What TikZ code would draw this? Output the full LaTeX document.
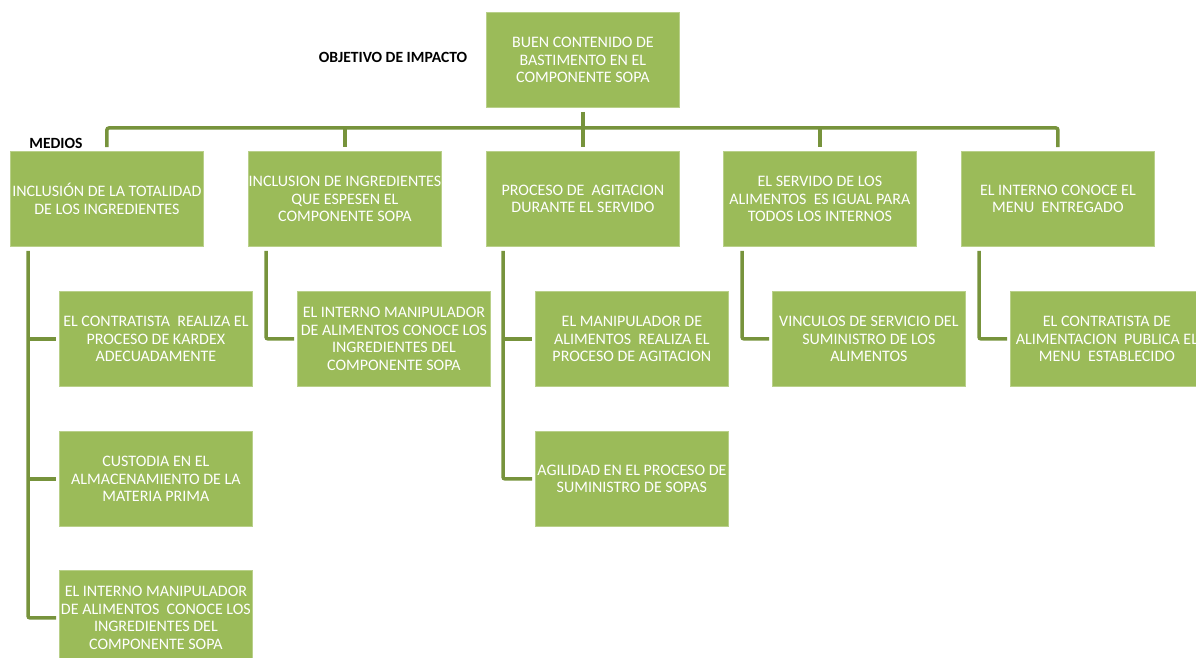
\documentclass[tikz,border=0pt]{standalone}
\usepackage{fontspec}
\setmainfont{Carlito}
\definecolor{boxgreen}{HTML}{9BBB59}
\definecolor{boxedge}{HTML}{B9D08A}
\definecolor{linegreen}{HTML}{77933C}
\tikzset{
  box/.style={fill=boxgreen, draw=boxedge, line width=0.8pt, minimum width=193pt, minimum height=95pt,
    inner sep=0pt, text=white, align=center, anchor=north west,
    font=\fontsize{16}{17.5}\selectfont},
  conn/.style={draw=linegreen, line width=3.5pt, rounded corners=2pt, line cap=butt},
  lbl/.style={font=\fontsize{15.6}{17}\selectfont\bfseries, text=black, inner sep=0pt}
}
\begin{document}
\begin{tikzpicture}[x=1pt,y=-1pt]
\useasboundingbox (0,0) rectangle (1196,658);
% top
\node[box] (top) at (486,12) {BUEN CONTENIDO DE\\BASTIMENTO EN EL\\COMPONENTE SOPA};
\node[lbl] (obj) at (393,57) {OBJETIVO DE IMPACTO};
\node[lbl] (med) at (56,143) {MEDIOS};
% level 1
\node[box] (m1) at (10,151) {INCLUSIÓN DE LA TOTALIDAD\\DE LOS INGREDIENTES};
\node[box] (m2) at (248,151) {INCLUSION DE INGREDIENTES\\QUE ESPESEN EL\\COMPONENTE SOPA};
\node[box] (m3) at (486,151) {PROCESO DE~ AGITACION\\DURANTE EL SERVIDO};
\node[box] (m4) at (723,151) {EL SERVIDO DE LOS\\ALIMENTOS~ ES IGUAL PARA\\TODOS LOS INTERNOS};
\node[box] (m5) at (961,151) {EL INTERNO CONOCE EL\\MENU~ ENTREGADO};
% level 2
\node[box] (a1) at (59,291) {EL CONTRATISTA~ REALIZA EL\\PROCESO DE KARDEX\\ADECUADAMENTE};
\node[box] (a2) at (59,431) {CUSTODIA EN EL\\ALMACENAMIENTO DE LA\\MATERIA PRIMA};
\node[box] (a3) at (59,570) {EL INTERNO MANIPULADOR\\DE ALIMENTOS~ CONOCE LOS\\INGREDIENTES DEL\\COMPONENTE SOPA};
\node[box] (b1) at (297,291) {EL INTERNO MANIPULADOR\\DE ALIMENTOS CONOCE LOS\\INGREDIENTES DEL\\COMPONENTE SOPA};
\node[box] (c1) at (535,291) {EL MANIPULADOR DE\\ALIMENTOS~ REALIZA EL\\PROCESO DE AGITACION};
\node[box] (c2) at (535,431) {AGILIDAD EN EL PROCESO DE\\SUMINISTRO DE SOPAS};
\node[box] (d1) at (772,291) {VINCULOS DE SERVICIO DEL\\SUMINISTRO DE LOS\\ALIMENTOS};
\node[box] (e1) at (1010,291) {EL CONTRATISTA DE\\ALIMENTACION~ PUBLICA EL\\MENU~ ESTABLECIDO};
% bus
\coordinate (bus) at (582,128);
\draw[conn] ([yshift=-4pt]top.south) -- (top.south |- bus);
\draw[conn] ([yshift=4pt]m1.north) -- (m1.north |- bus) -- (m5.north |- bus) -- ([yshift=4pt]m5.north);
\foreach \m in {m2,m3,m4}{
  \draw[conn] (\m.north |- bus) -- ([yshift=4pt]\m.north);
}
% branches
\coordinate (v1) at ([xshift=18pt,yshift=-4pt]m1.south west);
\draw[conn] (v1) |- ([xshift=-3pt]a3.west);
\draw[conn] (v1 |- a1.west) -- ([xshift=-3pt]a1.west);
\draw[conn] (v1 |- a2.west) -- ([xshift=-3pt]a2.west);
\coordinate (v2) at ([xshift=18pt,yshift=-4pt]m2.south west);
\draw[conn] (v2) |- ([xshift=-3pt]b1.west);
\coordinate (v3) at ([xshift=17pt,yshift=-4pt]m3.south west);
\draw[conn] (v3) |- ([xshift=-3pt]c2.west);
\draw[conn] (v3 |- c1.west) -- ([xshift=-3pt]c1.west);
\coordinate (v4) at ([xshift=19pt,yshift=-4pt]m4.south west);
\draw[conn] (v4) |- ([xshift=-3pt]d1.west);
\coordinate (v5) at ([xshift=18pt,yshift=-4pt]m5.south west);
\draw[conn] (v5) |- ([xshift=-3pt]e1.west);
\end{tikzpicture}
\end{document}
